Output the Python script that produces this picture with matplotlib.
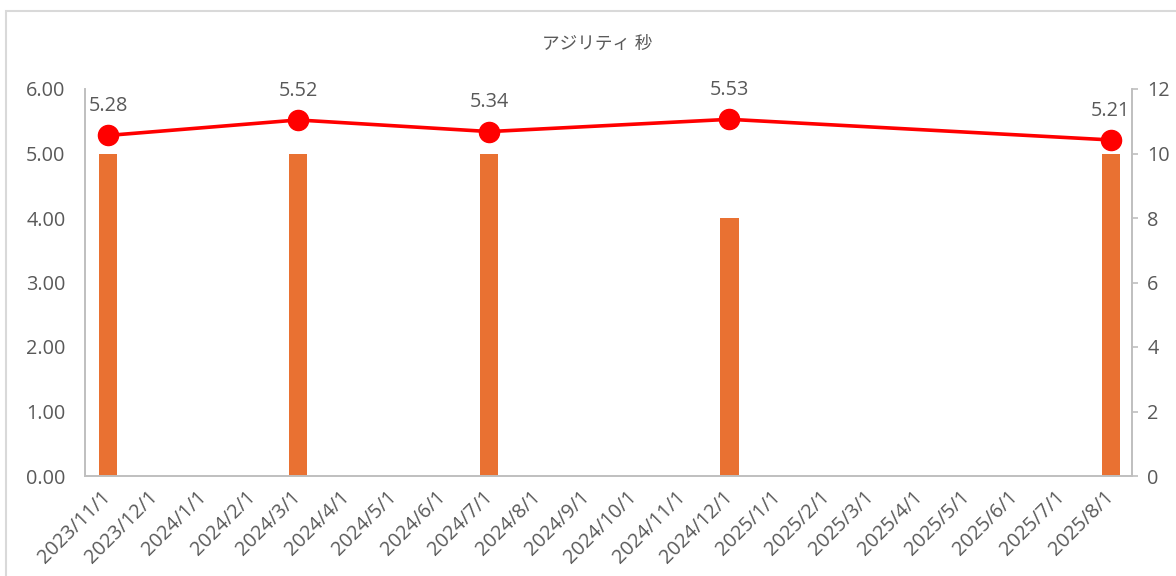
import numpy as np
import pandas as pd
import matplotlib
matplotlib.use("Agg")
import matplotlib.pyplot as plt
import matplotlib.dates as mdates
from matplotlib.patches import Rectangle

plt.rcParams['font.family'] = ['Open Sans', 'Noto Sans CJK JP', 'DejaVu Sans']

# data
title = 'アジリティ 秒'
dates = pd.to_datetime(['2023-11-01', '2024-03-01', '2024-07-01', '2024-12-01', '2025-08-01'])
seconds = [5.28, 5.52, 5.34, 5.53, 5.21]
counts = [10, 10, 10, 8, 10]
months = pd.date_range('2023-11-01', '2025-08-01', freq='MS')
month_labels = [f"{d.year}/{d.month}/{d.day}" for d in months]

txt = '#595959'
grid = '#BFBFBF'
fs = 14.3

fig = plt.figure(figsize=(11.76, 5.76), dpi=100)
fig.patches.append(Rectangle((6 / 1176, -0.1), 1.2, 1.1 - 10.5 / 576, transform=fig.transFigure,
                             fill=False, edgecolor='#D9D9D9', linewidth=1.5))

ax = fig.add_axes([85 / 1176, 1 - 476 / 576, (1132 - 85) / 1176, (476 - 89) / 576])
ax2 = ax.twinx()

x = mdates.date2num(dates)
ax2.bar(x, counts, width=11.5, color='#E97132', zorder=2)

ax.set_zorder(ax2.get_zorder() + 1)
ax.patch.set_visible(False)
ax.plot(x, seconds, color='#FF0000', lw=2.6, marker='o', markersize=14.5, zorder=3)
for xi, v in zip(x, seconds):
    ax.annotate(f"{v:.2f}", (xi, v), xytext=(0, 21), textcoords='offset points',
                ha='center', va='center', fontsize=fs, color=txt)

ax.set_ylim(0, 6)
ax2.set_ylim(0, 12)
ax.set_yticks(np.arange(0, 7, 1))
ax.set_yticklabels([f"{v:.2f}" for v in np.arange(0, 7, 1)])
ax2.set_yticks(np.arange(0, 13, 2))

mx = mdates.date2num(months)
ax.set_xlim(mx[0] - 14.7, mx[-1] + 13.5)
ax.set_xticks(mx)
ax.set_xticklabels(month_labels, rotation=45, ha='right', va='center', rotation_mode='anchor')

for a in (ax, ax2):
    for s in a.spines.values():
        s.set_color(grid)
        s.set_linewidth(1.2)
    a.spines['top'].set_visible(False)
ax.tick_params(axis='y', length=0, pad=14, labelsize=fs, labelcolor=txt)
ax.tick_params(axis='x', length=0, pad=13, labelsize=fs, labelcolor=txt)
ax2.tick_params(axis='y', length=4, color=grid, width=1.2, pad=7, labelsize=fs, labelcolor=txt)

fig.text(597 / 1176, 1 - 44 / 576, title, ha='center', va='center', fontsize=12.7, color=txt)

fig.savefig('out.png', dpi=100)
